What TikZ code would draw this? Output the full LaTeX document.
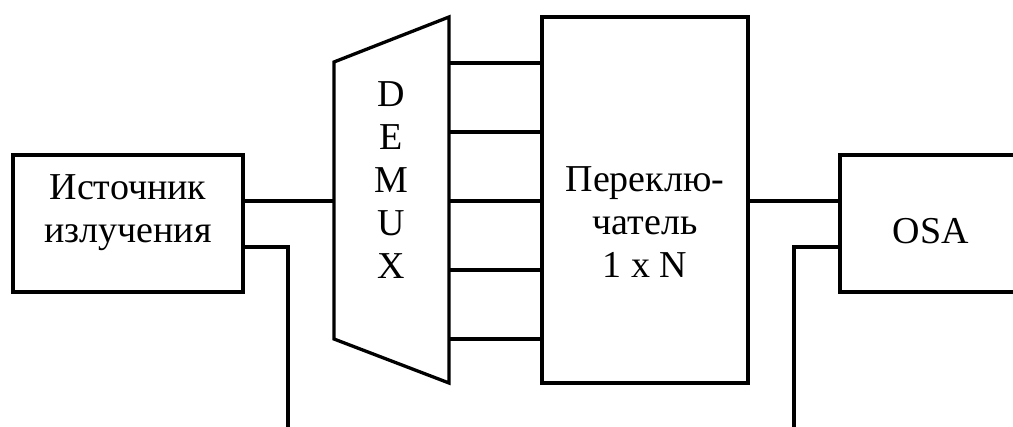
\documentclass[tikz,border=0pt]{standalone}
\usepackage{fontspec}
\setmainfont{Liberation Serif}
\begin{document}
\begin{tikzpicture}[x=1pt,y=-1pt,line width=3.3pt,
  box/.style={draw,rectangle,inner sep=0pt},
  txt/.style={font=\fontsize{38}{43}\selectfont,align=center,inner sep=0pt},
  wire/.style={draw}]
\useasboundingbox (0,0) rectangle (1013,427);
\clip (0,0) rectangle (1013,427);
% source
\node[box,minimum width=230pt,minimum height=137pt] (src) at (128,223.5) {};
\node[txt] (srct) at (128,213) {Источник\\излучения};
% DEMUX
\coordinate (d1) at (334,62);
\coordinate (d2) at (449,17);
\coordinate (d3) at (449,383);
\coordinate (d4) at (334,339);
\draw[line join=miter] (d1) -- (d2) -- (d3) -- (d4) -- cycle;
\node[txt] (demt) at (391,180.5) {D\\E\\M\\U\\X};
% switch
\node[box,minimum width=206pt,minimum height=366pt] (sw) at (645,200) {};
\node[txt] (swt) at (645,222) {Переклю-\\чатель\\1 x N};
% OSA
\node[box,minimum width=182pt,minimum height=137pt] (osa) at (931,223.5) {};
\node[txt] (osat) at (931,231.5) {OSA};
% free ends
\coordinate (srcout) at (288,432);
\coordinate (osain) at (794,432);
% connectors
\draw[wire] (src.east |- 0,201) -- (d1 |- 0,201);
\draw[wire] (src.east |- 0,247) -| (srcout);
\foreach \yy in {63,132,201,270,339}
  \draw[wire] (d2 |- 0,\yy) -- (sw.west |- 0,\yy);
\draw[wire] (sw.east |- 0,201) -- (osa.west |- 0,201);
\draw[wire] (osa.west |- 0,247) -| (osain);
\end{tikzpicture}
\end{document}
